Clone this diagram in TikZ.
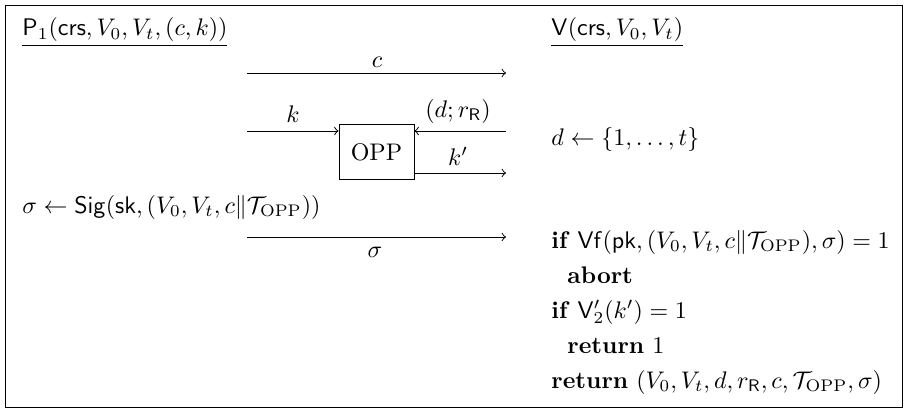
\documentclass[tikz,border=0pt]{standalone}
\usepackage{amsmath,amssymb}
\begin{document}
\begin{tikzpicture}[x=0.4167pt,y=-0.4167pt,
  txt/.style={anchor=base west,inner sep=0pt},
  lbl/.style={anchor=base,inner sep=0pt},
  msg/.style={->}]
\useasboundingbox (0,0) rectangle (908,410);
\draw (5,5) rectangle (902,407);
\node[txt] (hdrP) at (22,36) {$\underline{\mathsf{P}_1(\mathsf{crs},V_0,V_t,(c,k))}$};
\node[txt] (hdrV) at (551,36) {$\underline{\mathsf{V}(\mathsf{crs},V_0,V_t)}$};
\coordinate (cL) at (247,73);
\coordinate (cR) at (506,73);
\draw[msg] (cL) -- (cR);
\node[lbl] (cLbl) at (377,67) {$c$};
\node[draw,minimum width=31.25pt,minimum height=23.3pt] (opp) at (376.5,152) {OPP};
\coordinate (kL) at (247,131);
\coordinate (dR) at (506,131);
\coordinate (kpR) at (506,173);
\draw[msg] (kL) -- (opp.west |- kL);
\draw[msg] (dR) -- (opp.east |- dR);
\draw[msg] (opp.east |- kpR) -- (kpR);
\node[lbl] (kLbl) at (293,122) {$k$};
\node[lbl] (dLbl) at (458,117) {$(d;r_{\mathsf{R}})$};
\node[lbl] (kpLbl) at (458,165) {$k'$};
\node[txt] (dSmp) at (551,145) {$d\leftarrow\{1,\ldots,t\}$};
\node[txt] (sig) at (22,213) {$\sigma\leftarrow\mathsf{Sig}(\mathsf{sk},(V_0,V_t,c\|\mathcal{T}_{\mathrm{OPP}}))$};
\coordinate (sL) at (247,237);
\coordinate (sR) at (506,237);
\draw[msg] (sL) -- (sR);
\node[lbl] (sLbl) at (375,257) {$\sigma$};
\node[txt] (vf) at (551,248) {\textbf{if} $\mathsf{Vf}(\mathsf{pk},(V_0,V_t,c\|\mathcal{T}_{\mathrm{OPP}}),\sigma)=1$};
\node[txt] (abrt) at (567,283) {\textbf{abort}};
\node[txt] (vtwo) at (551,318) {\textbf{if} $\mathsf{V}_2'(k')=1$};
\node[txt] (ret1) at (567,353) {$\mathbf{return}\ 1$};
\node[txt] (ret) at (551,388) {$\mathbf{return}\ (V_0,V_t,d,r_{\mathsf{R}},c,\mathcal{T}_{\mathrm{OPP}},\sigma)$};
\end{tikzpicture}
\end{document}
